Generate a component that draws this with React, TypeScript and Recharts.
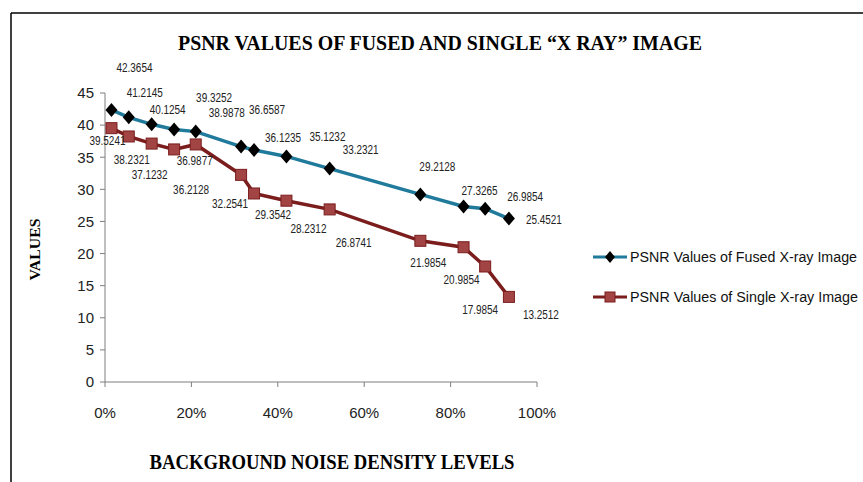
import React from 'react'
import {
  LineChart, Line, XAxis, YAxis, Legend, LabelList,
} from 'recharts'

// ─── data ────────────────────────────────────────────────────
const noiseLevels = [1.5, 5.5, 10.8, 16, 21, 31.5, 34.5, 42, 52, 73, 83, 88, 93.5]
const fusedPsnr = [42.3654, 41.2145, 40.1254, 39.3252, 38.9878, 36.6587, 36.1235, 35.1232, 33.2321, 29.2128, 27.3265, 26.9854, 25.4521]
const singlePsnr = [39.5241, 38.2321, 37.1232, 36.2128, 36.9877, 32.2541, 29.3542, 28.2312, 26.8741, 21.9854, 20.9854, 17.9854, 13.2512]
const xTicks = [0, 20, 40, 60, 80, 100]
const yTicks = [0, 5, 10, 15, 20, 25, 30, 35, 40, 45]

const FUSED_NAME = 'PSNR Values of Fused X-ray Image'
const SINGLE_NAME = 'PSNR Values of Single X-ray Image'

// label nudges (dx, dy from the point), the labels were dragged by hand in the original
const fusedLabelShift = [[23, -42], [16, -25], [16, -15], [40, -32], [31, -19], [26, -37], [29, -12], [41, -20], [31, -19], [17, -28], [16, -16], [40, -12], [35, 1]]
const singleLabelShift = [[-4, 12], [3, 23], [-2, 31], [17, 40], [-1, 16], [-11, 29], [19, 21], [22, 28], [24, 33], [8, 22], [-2, 32], [-5, 43], [32, 18]]

const data = noiseLevels.map((x, i) => ({ x, fused: fusedPsnr[i], single: singlePsnr[i] }))

// ─── colours / fonts ─────────────────────────────────────────
const TEAL = '#1f7a9b'
const MAROON = '#7b1d1d'
const SQUARE_FILL = '#a24444'
const SANS = "'Liberation Sans', Arial, sans-serif"
const SERIF = "'Liberation Serif', 'Times New Roman', serif"

const Diamond = (props: any) => {
  const { cx, cy } = props
  if (cx == null || cy == null) return null
  return <polygon points={`${cx},${cy - 7} ${cx + 6},${cy} ${cx},${cy + 7} ${cx - 6},${cy}`} fill="#000" />
}

const Square = (props: any) => {
  const { cx, cy } = props
  if (cx == null || cy == null) return null
  return <rect x={cx - 5.5} y={cy - 5.5} width={11} height={11} fill={SQUARE_FILL} stroke={MAROON} strokeWidth={1} />
}

const makeLabel = (shift: number[][]) => (props: any) => {
  const x = props.x ?? props.viewBox?.x
  const y = props.y ?? props.viewBox?.y
  const i = props.index ?? 0
  if (x == null || y == null) return null
  const [dx, dy] = shift[i] || [0, 0]
  return (
    <text x={x + dx} y={y + dy} dy="0.35em" textAnchor="middle" fontSize={12.5} fontFamily={SANS}
      fill="#222" textLength={36} lengthAdjust="spacingAndGlyphs">
      {Number(props.value).toFixed(4)}
    </text>
  )
}

const LegendBox = () => (
  <svg width={270} height={80}>
    <line x1={0} y1={20} x2={34} y2={20} stroke={TEAL} strokeWidth={3} />
    <polygon points="17,14 22,20 17,26 12,20" fill="#000" />
    <text x={37} y={20} dy="0.35em" fontSize={14} fontFamily={SANS} fill="#111" textLength={227} lengthAdjust="spacingAndGlyphs">{FUSED_NAME}</text>
    <line x1={0} y1={60} x2={34} y2={60} stroke={MAROON} strokeWidth={3} />
    <rect x={12} y={55} width={10} height={10} fill={SQUARE_FILL} stroke={MAROON} />
    <text x={37} y={60} dy="0.35em" fontSize={14} fontFamily={SANS} fill="#111" textLength={228} lengthAdjust="spacingAndGlyphs">{SINGLE_NAME}</text>
  </svg>
)

export default function App() {
  return (
    <div style={{ position: 'absolute', left: 0, top: 0, width: 863, height: 482, background: '#fff', overflow: 'hidden' }}>
      <LineChart width={863} height={482} data={data} margin={{ top: 93, right: 326, bottom: 60, left: 45 }}>
        <XAxis
          type="number" dataKey="x" domain={[0, 100]} ticks={xTicks}
          tickFormatter={(v) => `${v}%`}
          height={40} tickSize={5} tickMargin={20}
          stroke="#7f7f7f" tick={{ fontSize: 15, fontFamily: SANS, fill: '#222' }}
          label={{
            content: (p: any) => {
              const vb = p.viewBox || {}
              return (
                <text x={vb.x + vb.width / 2 + 11} y={469} textAnchor="middle" fontFamily={SERIF} fontWeight="bold"
                  fontSize={21} fill="#000" textLength={365} lengthAdjust="spacingAndGlyphs">
                  BACKGROUND NOISE DENSITY LEVELS
                </text>
              )
            },
          }}
        />
        <YAxis
          domain={[0, 45]} ticks={yTicks} width={60} tickSize={5} tickMargin={6}
          stroke="#7f7f7f" tick={{ fontSize: 15, fontFamily: SANS, fill: '#222' }}
          label={{
            content: (p: any) => {
              const vb = p.viewBox || {}
              const cx = 35
              const cy = vb.y + vb.height / 2 + 12
              return (
                <text x={cx} y={cy} transform={`rotate(-90 ${cx} ${cy})`} dy="0.35em" textAnchor="middle"
                  fontFamily={SERIF} fontWeight="bold" fontSize={15} fill="#000" textLength={62} lengthAdjust="spacingAndGlyphs">
                  VALUES
                </text>
              )
            },
          }}
        />
        <Legend
          layout="horizontal" align="center" verticalAlign="middle"
          width={270} height={80}
          wrapperStyle={{ left: 593, top: 237, width: 270, height: 80 }}
          content={() => <LegendBox />}
        />
        <Line type="linear" dataKey="fused" name={FUSED_NAME} stroke={TEAL} strokeWidth={3.5}
          dot={<Diamond />} activeDot={false} isAnimationActive={false}>
          <LabelList dataKey="fused" content={makeLabel(fusedLabelShift)} />
        </Line>
        <Line type="linear" dataKey="single" name={SINGLE_NAME} stroke={MAROON} strokeWidth={3.5}
          dot={<Square />} activeDot={false} isAnimationActive={false}>
          <LabelList dataKey="single" content={makeLabel(singleLabelShift)} />
        </Line>
      </LineChart>

      {/* frame + title */}
      <svg width={863} height={482} style={{ position: 'absolute', left: 0, top: 0, pointerEvents: 'none' }}>
        <line x1={11} y1={13} x2={863} y2={13} stroke="#000" strokeWidth={1.5} />
        <line x1={11} y1={13} x2={11} y2={482} stroke="#000" strokeWidth={1.5} />
        <text x={440} y={50} textAnchor="middle" fontFamily={SERIF} fontWeight="bold" fontSize={21} fill="#000"
          textLength={524} lengthAdjust="spacingAndGlyphs">
          PSNR VALUES OF FUSED AND SINGLE “X RAY” IMAGE
        </text>
      </svg>
    </div>
  )
}
